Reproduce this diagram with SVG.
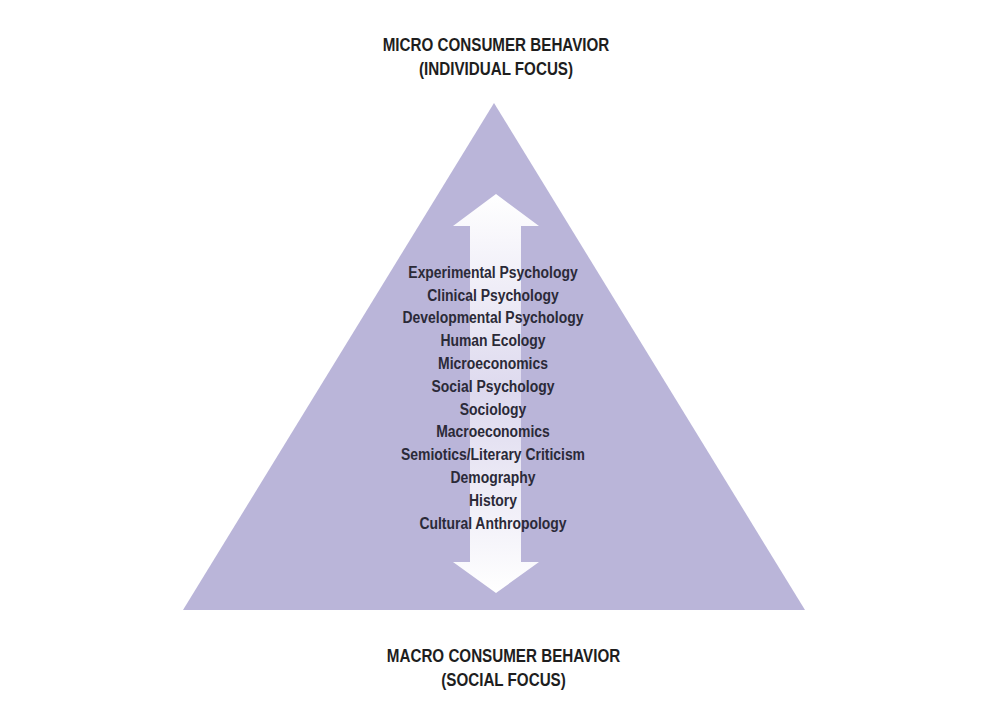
<svg xmlns="http://www.w3.org/2000/svg" width="988" height="704" viewBox="0 0 988 704">
<style>
.h{font-family:"Liberation Sans",Arial,sans-serif;font-weight:bold;font-size:19px;fill:#1e1e1e;text-anchor:middle}
.t{font-family:"Liberation Sans",Arial,sans-serif;font-size:16px;fill:#2b2a38;text-anchor:middle;font-weight:bold}
</style>
<defs>
<linearGradient id="g" x1="0" y1="194" x2="0" y2="593" gradientUnits="userSpaceOnUse">
<stop offset="0" stop-color="#ffffff"/>
<stop offset="0.5" stop-color="#ddd9ee"/>
<stop offset="1" stop-color="#ffffff"/>
</linearGradient>
</defs>
<rect width="988" height="704" fill="#ffffff"/>
<g id="pyramid">
<polygon points="494,103 805,610 183,610" fill="#bab5d9"/>
</g>
<g id="connectors">
<polygon points="496,194 539,226 521,226 521,562 539,562 496,593 453,562 470,562 470,226 453,226" fill="url(#g)"/>
</g>
<g id="top-label" transform="translate(496,0) scale(0.8,1)">
<text class="h" x="0" y="51">MICRO CONSUMER BEHAVIOR</text>
<text class="h" x="0" y="75">(INDIVIDUAL FOCUS)</text>
</g>
<g id="bottom-label" transform="translate(503.5,0) scale(0.8,1)">
<text class="h" x="0" y="662">MACRO CONSUMER BEHAVIOR</text>
<text class="h" x="0" y="686">(SOCIAL FOCUS)</text>
</g>
<g id="disciplines" transform="translate(493,0) scale(0.87,1)">
<text class="t" x="0" y="278">Experimental Psychology</text>
<text class="t" x="0" y="301">Clinical Psychology</text>
<text class="t" x="0" y="323">Developmental Psychology</text>
<text class="t" x="0" y="346">Human Ecology</text>
<text class="t" x="0" y="369">Microeconomics</text>
<text class="t" x="0" y="392">Social Psychology</text>
<text class="t" x="0" y="415">Sociology</text>
<text class="t" x="0" y="437">Macroeconomics</text>
<text class="t" x="0" y="460">Semiotics/Literary Criticism</text>
<text class="t" x="0" y="483">Demography</text>
<text class="t" x="0" y="506">History</text>
<text class="t" x="0" y="529">Cultural Anthropology</text>
</g>
</svg>
